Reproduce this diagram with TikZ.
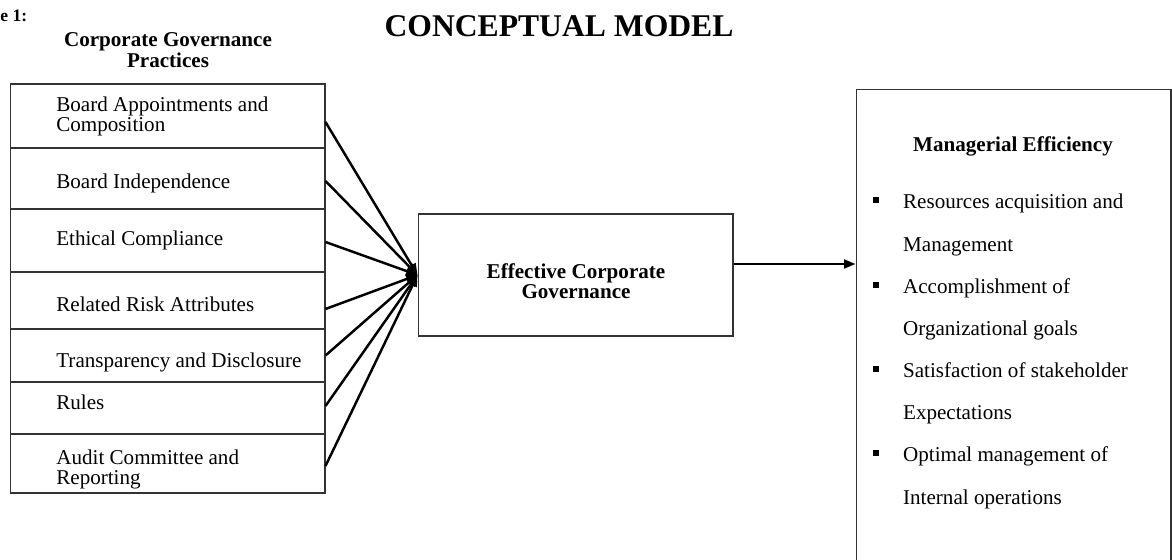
\documentclass[tikz,border=0pt]{standalone}
\usepackage{fontspec}
\setmainfont{Liberation Serif}
\usetikzlibrary{arrows.meta,positioning}

\tikzset{
	rowbox/.style={draw=black!80, line width=0.6pt, minimum width=6.3cm, inner sep=0pt},
	rowtext/.style={align=left, inner sep=0pt, font=\fontsize{12}{11.4}\selectfont},
	headtext/.style={align=center, inner sep=0pt, font=\bfseries\fontsize{12}{10.2}\selectfont},
	fanline/.style={line width=1.4pt, -{Triangle[length=6.5pt,width=5pt]}},
	mainarrow/.style={line width=1.3pt, -{Triangle[length=6.5pt,width=5pt]}}
}
\newcommand{\sqbullet}{\makebox[0.61cm][l]{\rule[3.2pt]{3.4pt}{3.4pt}}}
\newcommand{\sqgap}{\hspace*{0.61cm}}

\begin{document}
\begin{tikzpicture}[x=0.02cm, y=-0.02cm]
			%%%%% START %%%%%
			\useasboundingbox (0, 0) rectangle (1172, 560);
			\clip (0, 0) rectangle (1172, 560);
			
			\node[anchor=base west, inner sep=0pt, font=\bfseries\fontsize{10}{12}\selectfont] (fig) at (0, 22) {e 1:};
			\node[anchor=base, inner sep=0pt, font=\bfseries\fontsize{18}{22}\selectfont] (title) at (559, 37) {CONCEPTUAL MODEL};
			
			% practices column
			\node[headtext] (cgp) at (168, 50) {Corporate Governance\\Practices};
			
			\node[rowbox, minimum height=1.28cm] (r1) at (167.5, 116) {};
			\node[rowbox, minimum height=1.22cm] (r2) at (167.5, 178.5) {};
			\node[rowbox, minimum height=1.26cm] (r3) at (167.5, 240.5) {};
			\node[rowbox, minimum height=1.14cm] (r4) at (167.5, 300.5) {};
			\node[rowbox, minimum height=1.06cm] (r5) at (167.5, 355.5) {};
			\node[rowbox, minimum height=1.04cm] (r6) at (167.5, 408) {};
			\node[rowbox, minimum height=1.18cm] (r7) at (167.5, 463.5) {};
			
			\node[rowtext, anchor=west] (t1) at (56, 116.6) {Board Appointments and\\Composition};
			\node[rowtext, anchor=base west] (t2) at (56, 189) {Board Independence};
			\node[rowtext, anchor=base west] (t3) at (56, 245.5) {Ethical Compliance};
			\node[rowtext, anchor=base west] (t4) at (56, 312) {Related Risk Attributes};
			\node[rowtext, anchor=base west] (t5) at (56, 367) {Transparency and Disclosure};
			\node[rowtext, anchor=base west] (t6) at (56, 409) {Rules};
			\node[rowtext, anchor=west] (t7) at (56, 469.1) {Audit Committee and\\Reporting};
			
			% middle box
			\node[rowbox, minimum height=2.44cm] (eff) at (575.5, 275) {};
			\node[headtext, font=\bfseries\fontsize{12}{11.4}\selectfont] (efftext) at (576, 281) {Effective Corporate\\Governance};
			
			% outcome box, runs off the bottom
			\node[rowbox, minimum height=10.4cm] (mgr) at (1013.5, 349) {};
			\node[anchor=base, inner sep=0pt, font=\bfseries\fontsize{12}{14}\selectfont] (mgrhead) at (1013, 152) {Managerial Efficiency};
			\node[anchor=north west, align=left, inner sep=0pt, font=\fontsize{12}{24}\selectfont] (mgrlist) at (872.3, 193.9)
				{\sqbullet Resources acquisition and\\
				 \sqgap Management\\
				 \sqbullet Accomplishment of\\
				 \sqgap Organizational goals\\
				 \sqbullet Satisfaction of stakeholder\\
				 \sqgap Expectations\\
				 \sqbullet Optimal management of\\
				 \sqgap Internal operations};
			
			% fan of arrows
			\draw[fanline] (r1.east |- 0,122) -- (eff.west);
			\draw[fanline] (r2.east |- 0,181) -- (eff.west);
			\draw[fanline] (r3.east |- 0,242) -- (eff.west);
			\draw[fanline] (r4.east |- 0,309) -- (eff.west);
			\draw[fanline] (r5.east) -- (eff.west);
			\draw[fanline] (r6.east |- 0,406) -- (eff.west);
			\draw[fanline] (r7.east |- 0,466) -- (eff.west);
			
			\draw[mainarrow] (eff.east |- 0,264) -- (mgr.west |- 0,264);
			
			%%%%% END %%%%%
\end{tikzpicture}
\end{document}
